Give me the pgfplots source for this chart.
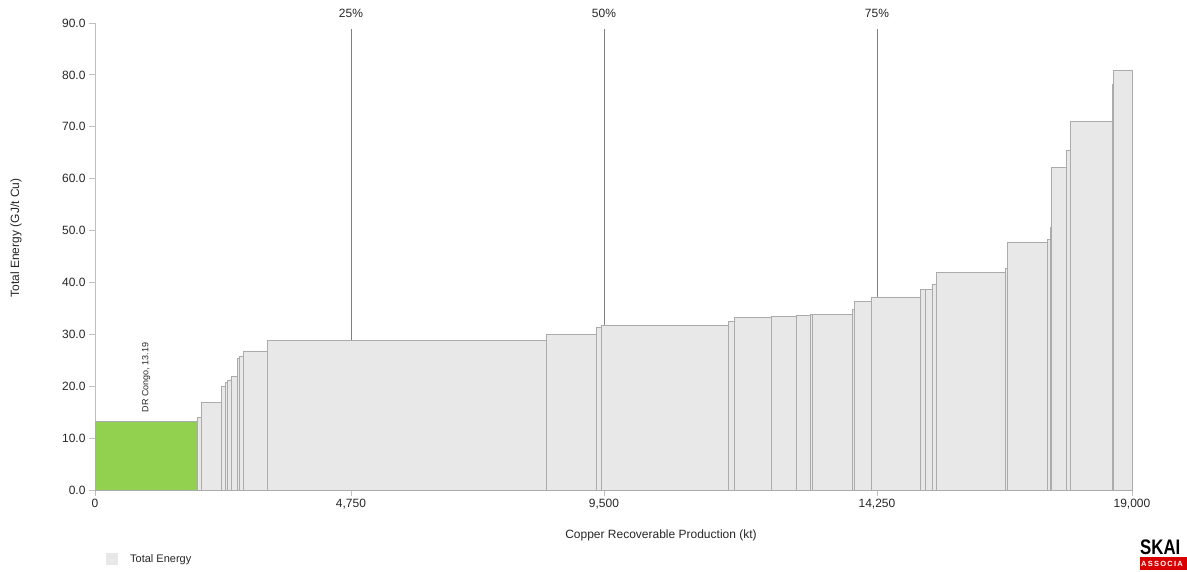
\documentclass[border=0pt]{standalone}
\usepackage{fontspec}
\setmainfont{Liberation Sans}
\usepackage{pgfplots}
\pgfplotsset{compat=1.18}
\definecolor{barfill}{HTML}{E8E8E8}
\definecolor{baredge}{HTML}{ABABAB}
\definecolor{greenbar}{HTML}{92D050}
\definecolor{pctline}{HTML}{7F7F7F}
\definecolor{axisgray}{HTML}{BFBFBF}
\definecolor{txt}{HTML}{262626}
\begin{document}
\begin{tikzpicture}[x=1pt,y=1pt]
\path[use as bounding box] (0,0) rectangle (1187,572);
\begin{axis}[
  at={(95pt,82pt)}, anchor=south west,
  width=1037pt, height=467pt, scale only axis,
  xmin=0, xmax=19000, ymin=0, ymax=90,
  clip=false,
  axis x line*=bottom, axis y line*=left,
  axis line style={-, axisgray, line width=0.8pt},
  xtick={0,4690,9326,14328,19000},
  xticklabels={0,{4,750},{9,500},{14,250},{19,000}},
  ytick={0,10,...,90},
  scaled x ticks=false, scaled y ticks=false,
  tick align=outside,
  major tick length=6pt,
  tick style={axisgray, line width=0.8pt},
  yticklabel style={/pgf/number format/.cd, fixed, fixed zerofill, precision=1, assume math mode=true},
  ticklabel style={font=\fontsize{12}{14}\selectfont, text=txt},
  legend style={at={(0.0077,-0.148)}, anchor=west, draw=none, fill=none,
    font=\fontsize{11}{13}\selectfont, text=txt, legend cell align=left},
  legend image code/.code={\fill[barfill, draw=none] (0pt,-6pt) rectangle (12pt,6pt); \path[draw=none, fill=none] (12pt,0pt) -- (22pt,0pt);},
]
% percentile lines
\addplot[pctline, line width=0.8pt, forget plot] coordinates {(4690,0) (4690,88.8)};
\addplot[pctline, line width=0.8pt, forget plot] coordinates {(9326,0) (9326,88.8)};
\addplot[pctline, line width=0.8pt, forget plot] coordinates {(14328,0) (14328,88.8)};
% highlighted bar
\addplot[ybar interval, fill=greenbar, draw=baredge, line width=0.8pt, forget plot]
  coordinates {(0,13.19) (1874,13.19)};
% other bars
\addplot[ybar interval, fill=barfill, draw=baredge, line width=0.8pt]
  coordinates {
  (1874,14.0) (1948,16.9) (2314,19.9) (2387,20.7) (2424,21.1) (2497,21.8)
  (2615,25.3) (2644,25.7) (2712,26.8) (3157,28.9) (8269,29.9) (9192,31.3)
  (9271,31.8) (11607,32.5) (11708,33.3) (12395,33.5) (12856,33.7) (13113,33.8)
  (13150,33.9) (13882,34.8) (13912,36.4) (14231,37.2) (15125,38.7) (15213,38.7)
  (15348,39.7) (15421,41.9) (16678,42.8) (16710,47.8) (17448,48.3) (17506,50.6)
  (17529,62.2) (17805,65.5) (17869,71.1) (18639,78.1) (18664,80.9) (19000,80.9)
  };
\addlegendentry{Total Energy}
\node[font=\fontsize{12}{14}\selectfont, text=txt] at (axis cs:4690,90) [yshift=10pt] {25\%};
\node[font=\fontsize{12}{14}\selectfont, text=txt] at (axis cs:9326,90) [yshift=10pt] {50\%};
\node[font=\fontsize{12}{14}\selectfont, text=txt] at (axis cs:14328,90) [yshift=10pt] {75\%};
\node[font=\fontsize{9}{10}\selectfont, text=txt, rotate=90, anchor=west] at (axis cs:937,13.19) {\hspace*{6pt}DR Congo, 13.19};
\end{axis}
\node[font=\fontsize{12}{14}\selectfont, text=txt, rotate=90] at (16,334) {Total Energy (GJ/t Cu)};
\node[font=\fontsize{12}{14}\selectfont, text=txt] at (661,37) {Copper Recoverable Production (kt)};
\node[font=\bfseries\fontsize{21}{21}\selectfont, anchor=west, inner sep=0pt, xscale=0.8] at (1140,25) {SKAI};
\fill[red!85!black] (1140,2) rectangle (1187,15);
\node[font=\bfseries\fontsize{7.5}{8}\selectfont, text=white, anchor=west, inner sep=0pt] at (1141,8.5) {A\,S\,S\,O\,C\,I\,A};
\end{tikzpicture}
\end{document}
